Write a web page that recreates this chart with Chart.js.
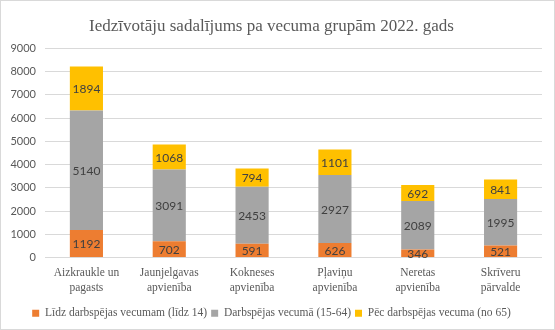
<!DOCTYPE html>
<html>
<head>
<meta charset="utf-8">
<script src="https://cdn.jsdelivr.net/npm/chart.js@4"></script>
<style>
  html, body { margin: 0; padding: 0; background: #fff; }
  #wrap { position: relative; width: 553px; height: 328px; border: 1px solid #d9d9d9; }
</style>
</head>
<body>
<div id="wrap"><canvas id="c" width="553" height="328"></canvas></div>
<script>
// Municipalities (two-line labels)
const categories = [
  ['Aizkraukle un', 'pagasts'],
  ['Jaunjelgavas', 'apvienība'],
  ['Kokneses', 'apvienība'],
  ['Pļaviņu', 'apvienība'],
  ['Neretas', 'apvienība'],
  ['Skrīveru', 'pārvalde']
];
const seriesNames = [
  'Līdz darbspējas vecumam (līdz 14)',
  'Darbspējas vecumā (15-64)',
  'Pēc darbspējas vecuma (no 65)'
];
const under14 = [1192, 702, 591, 626, 346, 521];
const working = [5140, 3091, 2453, 2927, 2089, 1995];
const over65 = [1894, 1068, 794, 1101, 692, 841];
const yTicks = [0, 1000, 2000, 3000, 4000, 5000, 6000, 7000, 8000, 9000];

const colors = ['#ED7D31', '#A5A5A5', '#FFC000'];
const serif = '"Liberation Serif", "Times New Roman", serif';
const sans = 'Lato, Carlito, "Open Sans", sans-serif';

// Writes each segment's value in its centre
const segmentLabels = {
  id: 'segmentLabels',
  afterDatasetsDraw(chart) {
    const ctx = chart.ctx;
    ctx.save();
    ctx.font = '12px ' + sans;
    ctx.fillStyle = '#404040';
    ctx.textAlign = 'center';
    ctx.textBaseline = 'middle';
    chart.data.datasets.forEach((ds, i) => {
      const meta = chart.getDatasetMeta(i);
      meta.data.forEach((bar, j) => {
        const y = (bar.y + bar.base) / 2;
        ctx.fillText(String(ds.data[j]), bar.x, y + 1);
      });
    });
    ctx.restore();
  }
};

new Chart(document.getElementById('c'), {
  type: 'bar',
  data: {
    labels: categories,
    datasets: [under14, working, over65].map((d, i) => ({
      label: seriesNames[i],
      data: d,
      backgroundColor: colors[i],
      borderWidth: 0,
      categoryPercentage: 1,
      barPercentage: 0.4
    }))
  },
  options: {
    responsive: false,
    animation: false,
    layout: { padding: { left: 0, right: 12, top: 8, bottom: 0 } },
    plugins: {
      title: {
        display: true,
        text: 'Iedzīvotāju sadalījums pa vecuma grupām 2022. gads',
        font: { family: serif, size: 17, weight: 'normal' },
        color: '#595959',
        padding: { top: 7, bottom: 12 }
      },
      legend: {
        position: 'bottom',
        labels: {
          font: { family: serif, size: 11.5 },
          color: '#595959',
          boxWidth: 7,
          boxHeight: 7,
          padding: 4
        }
      },
      tooltip: { enabled: false }
    },
    scales: {
      x: {
        stacked: true,
        grid: { display: false },
        border: { display: false },
        afterFit(scale) { scale.height += 8; },
        ticks: {
          font: { family: serif, size: 11.5, lineHeight: 1.3 },
          color: '#595959',
          maxRotation: 0,
          padding: 0
        }
      },
      y: {
        stacked: true,
        min: 0,
        max: 9000,
        afterBuildTicks(scale) { scale.ticks = yTicks.map(v => ({ value: v })); },
        afterFit(scale) { scale.width = 44; },
        grid: { color: '#d9d9d9', lineWidth: 1, drawTicks: false },
        border: { display: false },
        ticks: {
          font: { family: sans, size: 11 },
          color: '#595959',
          padding: 9,
          callback: v => String(v)
        }
      }
    }
  },
  plugins: [segmentLabels]
});
</script>
</body>
</html>
